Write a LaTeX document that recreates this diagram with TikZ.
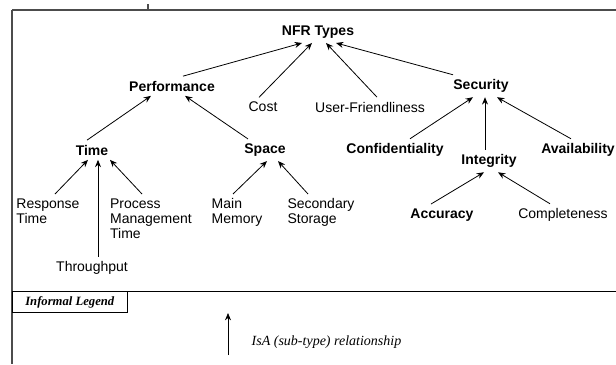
\documentclass[tikz,border=0pt]{standalone}
\usepackage{fontspec}
\setmainfont{Liberation Sans}
\newfontfamily\legendfont{Liberation Serif}
\usetikzlibrary{arrows.meta,calc}

\begin{document}
\begin{tikzpicture}[x=0.75pt,y=-0.75pt]
  \tikzstyle{goal}=[font=\fontsize{10.5}{11.25}\selectfont\bfseries]
  \tikzstyle{leaf}=[font=\fontsize{10.5}{11.25}\selectfont, align=left]
  \tikzstyle{isa}=[-{Stealth[length=5.5pt,width=4.5pt]}, line width=0.6pt]
  \tikzstyle{frame}=[line width=0.9pt, black!70]
  \tikzstyle{legend}=[font=\fontsize{10.5}{12}\selectfont\legendfont\itshape]

  \useasboundingbox (0,0) rectangle (616,364);

  % frame
  \draw[frame] (12,10) -- (616,10);
  \draw[frame] (12,10) -- (12,364);
  \draw[frame] (148,4) -- (148,10);
  \draw[line width=0.7pt] (12,291) -- (616,291);

  % top level
  \node[goal] (nfr) at (318,32) {NFR Types};

  % second level
  \node[goal] (perf) at (172,86) {Performance};
  \node[leaf] (cost) at (263,107) {Cost};
  \node[leaf] (uf) at (370,107) {User-Friendliness};
  \node[goal] (sec) at (481,86) {Security};

  % third level
  \node[goal] (time) at (92,150) {Time};
  \node[goal] (space) at (265,150) {Space};
  \node[goal] (conf) at (395,150) {Confidentiality};
  \node[goal] (integ) at (489,161) {Integrity};
  \node[goal] (avail) at (578,150) {Availability};

  % leaves
  \node[leaf, anchor=north] (rt) at (48,194) {Response\\Time};
  \node[leaf] (tp) at (92,268) {Throughput};
  \node[leaf, anchor=north] (pmt) at (151,194) {Process\\Management\\Time};
  \node[leaf, anchor=north] (mm) at (237,194) {Main\\Memory};
  \node[leaf, anchor=north] (ss) at (321,194) {Secondary\\Storage};
  \node[goal] (acc) at (442,215) {Accuracy};
  \node[leaf] (comp) at (563,215) {Completeness};

  % IsA links
  \draw[isa] ($(perf.north)+(11,0)$) -- ($(nfr.south)+(-16,0)$);
  \draw[isa] ($(cost.north)+(-4,0)$) -- ($(nfr.south)+(-6,0)$);
  \draw[isa] ($(uf.north)+(7,0)$) -- ($(nfr.south)+(8,0)$);
  \draw[isa] ($(sec.north)+(-28,0)$) -- ($(nfr.south)+(18,0)$);

  \draw[isa] ($(time.north)+(-5,0)$) -- ($(perf.south)+(-21,0)$);
  \draw[isa] ($(space.north)+(-17,0)$) -- ($(perf.south)+(13,0)$);

  \draw[isa] ($(rt.north)+(7,0)$) -- ($(time.south)+(-4,0)$);
  \draw[isa] ($(tp.north)+(6,0)$) -- ($(time.south)+(6,0)$);
  \draw[isa] ($(pmt.north)+(-9,0)$) -- ($(time.south)+(18,0)$);

  \draw[isa] ($(mm.north)+(-4,0)$) -- ($(space.south)+(2,0)$);
  \draw[isa] ($(ss.north)+(-13,0)$) -- ($(space.south)+(13,0)$);

  \draw[isa] ($(conf.north)+(15,0)$) -- ($(sec.south)+(-8,0)$);
  \draw[isa] ($(integ.north)+(-4,0)$) -- ($(sec.south)+(4,0)$);
  \draw[isa] ($(avail.north)+(-7,0)$) -- ($(sec.south)+(16,0)$);

  \draw[isa] ($(acc.north)+(-11,0)$) -- ($(integ.south)+(-5,0)$);
  \draw[isa] ($(comp.north)+(-13,0)$) -- ($(integ.south)+(9,0)$);

  % legend
  \node[draw, line width=0.7pt, anchor=north west, minimum width=86pt, minimum height=16pt,
        font=\fontsize{9.5}{11}\selectfont\legendfont\bfseries\itshape] (lgbox) at (12,291) {Informal Legend};
  \coordinate (lgtail) at (228,355);
  \coordinate (lghead) at (228,313);
  \draw[isa] (lgtail) -- (lghead);
  \node[legend, anchor=west] (lgtext) at (247,342) {IsA (sub-type) relationship};
\end{tikzpicture}
\end{document}
